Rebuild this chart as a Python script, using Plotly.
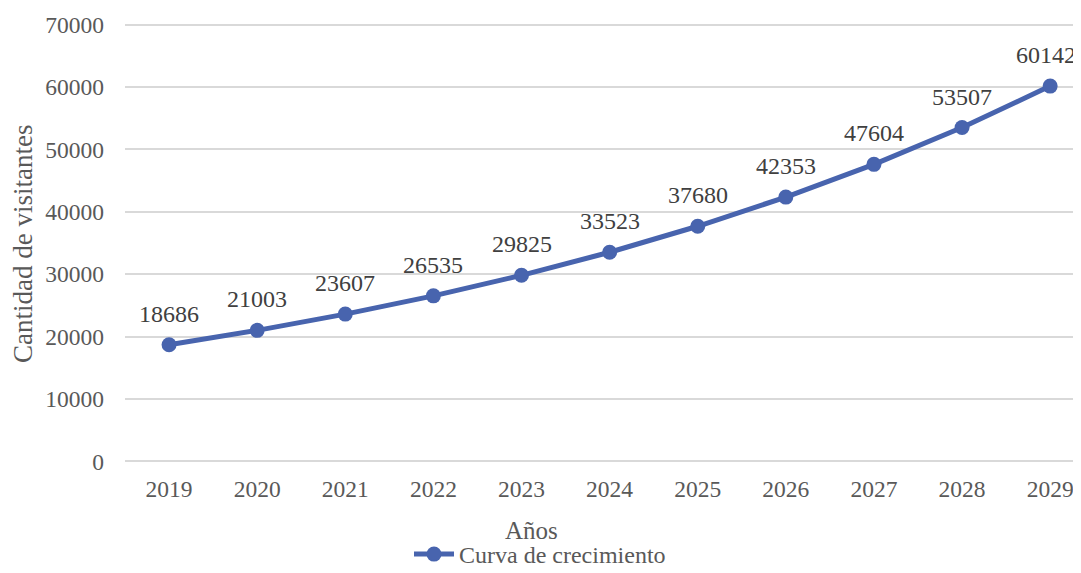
"""Curva de crecimiento de visitantes 2019-2029."""

import plotly.graph_objects as go

anios = ["2019", "2020", "2021", "2022", "2023", "2024", "2025", "2026", "2027", "2028", "2029"]
visitantes = [18686, 21003, 23607, 26535, 29825, 33523, 37680, 42353, 47604, 53507, 60142]
y_ticks = [0, 10000, 20000, 30000, 40000, 50000, 60000, 70000]

AZUL = "#4864AE"
GRIS = "#595959"
FUENTE = "Liberation Serif, Times New Roman, serif"

# la pagina tiene 8px de margen en body: la figura se dibuja desplazada 8px
OFF = 8
W, HT = 1081 - OFF, 573 - OFF
L, B0, H = 125 - OFF, 463 - OFF, 440   # borde izq., borde inferior, alto del area


def px_x(x):
    return (x - OFF - L) / 956


def px_y(y):
    return (B0 - (y - OFF)) / H


fig = go.Figure()

fig.add_trace(go.Scatter(
    x=list(range(len(anios))), y=visitantes,
    mode="lines+markers",
    name="Curva de crecimiento",
    line=dict(color=AZUL, width=5),
    marker=dict(size=15, color=AZUL),
    cliponaxis=False,
))

# etiquetas de datos encima de cada punto
for i, v in enumerate(visitantes):
    fig.add_annotation(
        x=i, y=v, text=str(v), showarrow=False,
        yanchor="bottom", yshift=16,
        xshift=-4 if i == len(visitantes) - 1 else 0,
        font=dict(family=FUENTE, size=24, color="#404040"),
    )

fig.add_annotation(
    xref="paper", yref="paper", x=px_x(531), y=px_y(530),
    text="Años", showarrow=False, yanchor="middle",
    font=dict(family=FUENTE, size=25, color=GRIS),
)
fig.add_annotation(
    xref="paper", yref="paper", x=px_x(23), y=px_y(244),
    text="Cantidad de visitantes", showarrow=False, textangle=-90,
    xanchor="center", yanchor="middle",
    font=dict(family=FUENTE, size=27, color=GRIS),
)

fig.update_layout(
    width=W, height=HT,
    paper_bgcolor="white", plot_bgcolor="white",
    margin=dict(l=L, r=0, t=B0 - H, b=HT - B0, autoexpand=False),
    font=dict(family=FUENTE, size=23, color=GRIS),
    showlegend=True,
    legend=dict(
        orientation="h", x=px_x(540), xanchor="center",
        y=px_y(577), yanchor="bottom",
        font=dict(family=FUENTE, size=24, color=GRIS),
        itemwidth=40, tracegroupgap=0,
    ),
    xaxis=dict(
        tickmode="array", tickvals=list(range(len(anios))), ticktext=anios,
        range=[-0.5, 10.35], showgrid=False, zeroline=False, automargin=False,
        showline=False, ticks="", ticklabelstandoff=9,
        tickfont=dict(size=23.5),
    ),
    yaxis=dict(
        range=[-250, 70250], tickvals=y_ticks, tickformat="d", automargin=False,
        showgrid=True, gridcolor="#D9D9D9", gridwidth=1.5,
        zeroline=True, zerolinecolor="#D9D9D9", zerolinewidth=1.5,
        showline=False, ticks="", ticklabelstandoff=20,
        tickfont=dict(size=23.5),
    ),
)

fig.write_html("out.html")
